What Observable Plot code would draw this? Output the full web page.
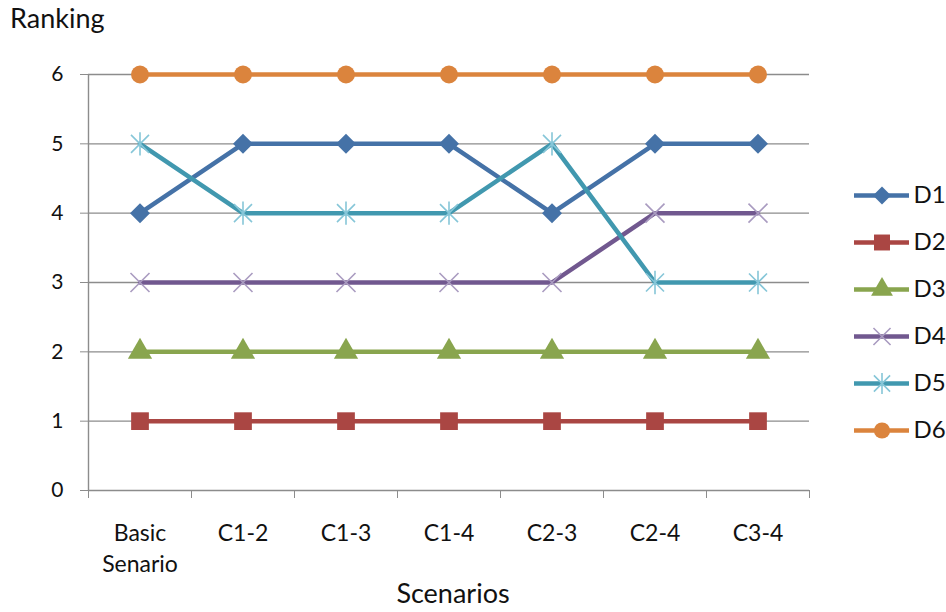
<!DOCTYPE html>
<html><head><meta charset="utf-8">
<script src="https://cdn.jsdelivr.net/npm/d3@7"></script>
<script src="https://cdn.jsdelivr.net/npm/@observablehq/plot@0.6"></script>
<style>
body{margin:0;background:#fff;}
#wrap{position:relative;width:946px;height:612px;font-family:Lato,"Open Sans",sans-serif;}
#legend{position:absolute;left:850px;top:170px;}
#ylab{position:absolute;left:10px;top:1px;font-size:27px;color:#111;}
</style>
</head><body>
<div id="wrap"><div id="ylab">Ranking</div><div id="chart"></div><div id="legend"></div></div>
<script>
const categories = ["Basic\nSenario","C1-2","C1-3","C1-4","C2-3","C2-4","C3-4"];
const seriesNames = ["D1","D2","D3","D4","D5","D6"];
const D1 = [4,5,5,5,4,5,5];
const D2 = [1,1,1,1,1,1,1];
const D3 = [2,2,2,2,2,2,2];
const D4 = [3,3,3,3,3,4,4];
const D5 = [5,4,4,4,5,3,3];
const D6 = [6,6,6,6,6,6,6];
const yTicks = [0,1,2,3,4,5,6];
const seriesValues = [D1,D2,D3,D4,D5,D6];

const lineColors = ["#4572A7","#AA4643","#89A54E","#71588F","#4198AF","#DB843D"];
const markerColors = ["#4572A7","#AA4643","#89A54E","#A99BC0","#86C6D8","#DB843D"];

const crossSym = {draw(ctx, size){const r=Math.sqrt(size/Math.PI);ctx.moveTo(-r,-r);ctx.lineTo(r,r);ctx.moveTo(r,-r);ctx.lineTo(-r,r);}};
const starSym = {draw(ctx, size){const r=Math.sqrt(size/Math.PI);ctx.moveTo(-r,-r);ctx.lineTo(r,r);ctx.moveTo(r,-r);ctx.lineTo(-r,r);ctx.moveTo(0,-r*1.3);ctx.lineTo(0,r*1.3);}};
const markers = [
  {symbol:"diamond2", r:9, filled:true},
  {symbol:"square", r:10, filled:true},
  {symbol:"triangle", r:9, filled:true},
  {symbol:crossSym, r:9.5, filled:false},
  {symbol:starSym, r:9, filled:false},
  {symbol:"circle", r:9, filled:true}
];

const rows = [];
seriesNames.forEach((s, si) => seriesValues[si].forEach((v, i) => rows.push({series:s, si, x:i+0.5, y:v})));

const grid = "#8c8c8c";
const marks = [
  Plot.gridY(yTicks.filter(d=>d>0), {stroke:grid, strokeOpacity:1, strokeWidth:1.4}),
  Plot.ruleX([0], {stroke:grid, strokeWidth:1.4}),
  Plot.ruleY([0], {stroke:grid, strokeWidth:1.4}),
  Plot.axisY({ticks:yTicks, tickFormat:d3.format("d"), tickSize:8, tickPadding:17, fontSize:21, label:null, stroke:grid, color:"#111"}),
  Plot.axisX({ticks:d3.range(8), tickFormat:()=>"", tickSize:8, label:null, stroke:grid}),
  Plot.axisX({ticks:d3.range(7).map(i=>i+0.5), tickFormat:d=>categories[Math.round(d-0.5)], tickSize:0, tickPadding:28, fontSize:23, lineHeight:1.35, label:null, color:"#111"}),
  Plot.text(["Scenarios"], {frameAnchor:"bottom", dx:4, dy:112, lineAnchor:"bottom", fontSize:27, fill:"#111"})
];
seriesNames.forEach((s, si) => {
  const data = rows.filter(r => r.si === si);
  marks.push(Plot.line(data, {x:"x", y:"y", stroke:lineColors[si], strokeWidth:4.5}));
  const m = markers[si];
  marks.push(Plot.dot(data, {x:"x", y:"y", symbol:()=>m.symbol, r:m.r,
    fill: m.filled ? markerColors[si] : "none",
    stroke: m.filled ? "none" : markerColors[si], strokeWidth: m.filled ? 0 : 1.6}));
});

const chart = Plot.plot({
  width:946, height:612,
  marginLeft:88, marginRight:137, marginTop:74, marginBottom:122,
  x:{type:"linear", domain:[0,7]},
  y:{domain:[0,6]},
  symbol:{type:"identity"},
  style:{fontFamily:"Lato, 'Open Sans', sans-serif", background:"#fff", overflow:"visible"},
  marks
});
document.getElementById("chart").appendChild(chart);

const legend = Plot.plot({
  width:96, height:290,
  marginLeft:4, marginRight:37, marginTop:24, marginBottom:30,
  x:{domain:[0,1], axis:null},
  y:{type:"point", domain:seriesNames, axis:null, padding:0},
  symbol:{type:"identity"},
  style:{fontFamily:"Lato, 'Open Sans', sans-serif", background:"transparent", overflow:"visible"},
  marks:[
    ...seriesNames.map((s, si) => Plot.ruleY([s], {x1:0, x2:1, stroke:lineColors[si], strokeWidth:4.5})),
    ...seriesNames.map((s, si) => Plot.dot([s], {x:0.5, y:d=>d, symbol:()=>markers[si].symbol, r:markers[si].r*0.9,
      fill: markers[si].filled ? markerColors[si] : "none",
      stroke: markers[si].filled ? "none" : markerColors[si], strokeWidth: markers[si].filled ? 0 : 1.6})),
    Plot.text(seriesNames, {x:1, y:d=>d, text:d=>d, dx:4, textAnchor:"start", fontSize:24, fill:"#111"})
  ]
});
document.getElementById("legend").appendChild(legend);
</script>
</body></html>
